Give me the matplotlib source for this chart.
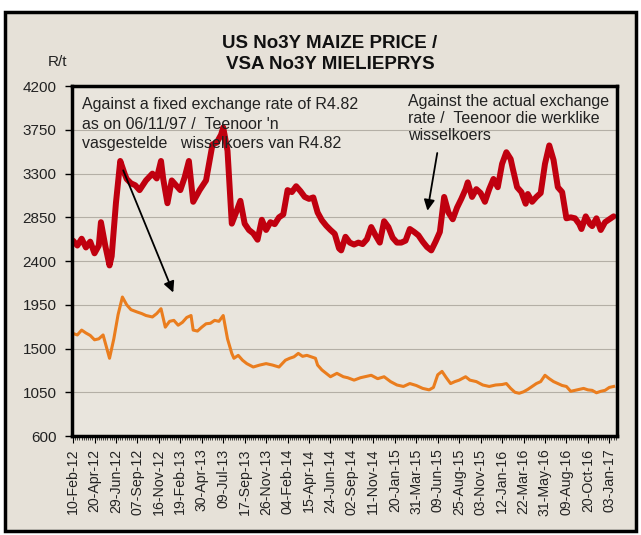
import numpy as np
import matplotlib.pyplot as plt
from matplotlib.patches import Rectangle

plt.rcParams['font.family'] = ['Liberation Sans', 'DejaVu Sans']

# category axis: one category per week, every 10th week is labelled
n_weeks = 254
week_labels = ['10-Feb-12', '20-Apr-12', '29-Jun-12', '07-Sep-12', '16-Nov-12',
               '19-Feb-13', '30-Apr-13', '09-Jul-13', '17-Sep-13', '26-Nov-13',
               '04-Feb-14', '15-Apr-14', '24-Jun-14', '02-Sep-14', '11-Nov-14',
               '20-Jan-15', '31-Mar-15', '09-Jun-15', '25-Aug-15', '03-Nov-15',
               '12-Jan-16', '22-Mar-16', '31-May-16', '09-Aug-16', '20-Oct-16',
               '03-Jan-17']

# actual exchange rate (R/t) at week index
actual_wk = [0, 2, 4, 6, 8, 10, 12, 13, 15, 17, 18, 20, 22, 24, 25, 27, 29, 31, 34, 37,
             39, 41, 42, 44, 46, 48, 50, 52, 54, 56, 59, 62, 65, 67, 69, 70, 72, 74, 76, 78,
             80, 82, 84, 86, 88, 90, 92, 94, 96, 98, 100, 102, 104, 106, 108, 110, 112, 114, 116, 118,
             120, 122, 124, 125, 127, 129, 131, 133, 135, 137, 139, 141, 143, 145, 147, 149, 151, 153, 155, 157,
             159, 161, 163, 165, 167, 169, 171, 173, 175, 177, 179, 181, 183, 184, 186, 188, 190, 192, 194, 196,
             198, 200, 202, 204, 205, 207, 209, 211, 212, 214, 216, 218, 220, 222, 224, 226, 228, 230, 232, 234,
             236, 237, 239, 241, 242, 244, 246, 248, 250, 252]
actual_val = [2610, 2560, 2630, 2540, 2600, 2480, 2560, 2800, 2560, 2355, 2450, 3000, 3430, 3300, 3245, 3200, 3180, 3130, 3230, 3300,
              3250, 3430, 3250, 2995, 3230, 3180, 3130, 3260, 3430, 3010, 3130, 3230, 3600, 3620, 3700, 3775, 3535, 2785, 2900, 3020,
              2785, 2720, 2685, 2620, 2825, 2720, 2800, 2780, 2850, 2880, 3130, 3110, 3170, 3120, 3060, 3040, 3055, 2900, 2820, 2765,
              2720, 2680, 2530, 2510, 2650, 2590, 2570, 2590, 2575, 2625, 2750, 2665, 2590, 2810, 2750, 2640, 2590, 2590, 2610, 2730,
              2700, 2665, 2600, 2545, 2510, 2600, 2700, 3060, 2900, 2830, 2950, 3040, 3140, 3210, 3060, 3140, 3100, 3010, 3140, 3245,
              3160, 3400, 3520, 3450, 3350, 3160, 3110, 2990, 3090, 3010, 3060, 3100, 3400, 3590, 3440, 3160, 3110, 2840, 2850, 2840,
              2780, 2730, 2860, 2780, 2760, 2840, 2720, 2800, 2830, 2860]

# fixed exchange rate of R4.82 (R/t)
fixed_wk = [0, 2, 4, 6, 8, 10, 12, 14, 15, 17, 19, 21, 23, 25, 27, 30, 32, 34, 37, 39,
            41, 43, 45, 47, 49, 51, 53, 55, 56, 58, 60, 62, 64, 66, 68, 70, 72, 74, 75, 77,
            79, 81, 84, 87, 90, 93, 96, 99, 101, 103, 105, 107, 109, 111, 113, 114, 116, 118, 120, 123,
            126, 128, 131, 134, 136, 139, 142, 145, 148, 151, 154, 157, 160, 163, 166, 168, 170, 172, 174, 176,
            178, 180, 183, 185, 188, 191, 194, 197, 200, 202, 204, 206, 208, 210, 212, 214, 216, 218, 220, 222,
            224, 226, 228, 230, 232, 234, 236, 238, 240, 242, 244, 246, 248, 250, 252]
fixed_val = [1655, 1640, 1690, 1660, 1635, 1590, 1600, 1640, 1560, 1400, 1600, 1850, 2030, 1950, 1900, 1875, 1860, 1840, 1825, 1860,
             1910, 1720, 1780, 1790, 1740, 1770, 1820, 1840, 1690, 1680, 1720, 1755, 1760, 1790, 1780, 1840, 1600, 1450, 1400, 1430,
             1380, 1345, 1310, 1330, 1345, 1330, 1310, 1380, 1400, 1415, 1450, 1420, 1430, 1415, 1400, 1330, 1280, 1245, 1210, 1245,
             1210, 1200, 1175, 1200, 1210, 1225, 1190, 1210, 1160, 1125, 1110, 1140, 1120, 1090, 1075, 1100, 1230, 1265, 1200, 1140,
             1160, 1175, 1210, 1175, 1160, 1125, 1110, 1125, 1130, 1140, 1090, 1050, 1040, 1055, 1080, 1110, 1140, 1160, 1225, 1190,
             1160, 1140, 1120, 1110, 1060, 1070, 1080, 1090, 1075, 1070, 1045, 1060, 1070, 1100, 1110]

y_ticks = [600, 1050, 1500, 1950, 2400, 2850, 3300, 3750, 4200]

fig = plt.figure(figsize=(6.41, 5.35), dpi=100)
fig.patch.set_facecolor('white')
# outer framed panel
fig.patches.append(Rectangle((5 / 641, 4 / 535), 631 / 641, 519 / 535, transform=fig.transFigure,
                             facecolor='#e6e1d8', edgecolor='black', lw=2.5, zorder=-1))

ax = fig.add_axes([0.1123, 0.185, 0.850, 0.654])
ax.set_facecolor('#e9e5dd')

ax.plot(actual_wk, actual_val, color='#c0000f', lw=4.3, solid_joinstyle='round', solid_capstyle='round')
ax.plot(fixed_wk, fixed_val, color='#ea7d1e', lw=2.2, solid_joinstyle='round')

ax.set_xlim(-0.5, n_weeks - 0.5)
ax.set_ylim(600, 4200)
ax.set_yticks(y_ticks)
ax.set_xticks(range(0, 10 * len(week_labels), 10))
ax.set_xticklabels(week_labels, rotation=90, fontsize=10.2, color='#222222')
ax.set_xticks(range(n_weeks), minor=True)
ax.tick_params(axis='y', labelsize=11, length=5, width=1, pad=6, labelcolor='#222222')
ax.tick_params(axis='x', which='major', length=5, width=0.8, pad=4)
ax.tick_params(axis='x', which='minor', length=3, width=0.5)
ax.yaxis.grid(True, color='#b4afa6', lw=0.8)
ax.set_axisbelow(True)
for s in ax.spines.values():
    s.set_linewidth(2.5)
    s.set_color('black')

fig.text(0.515, 0.899, 'US No3Y MAIZE PRICE /\nVSA No3Y MIELIEPRYS', ha='center', va='center',
         fontsize=13.5, fontweight='bold', linespacing=1.25, color='#111111')
fig.text(0.09, 0.884, 'R/t', ha='center', va='center', fontsize=11, color='#222222')

ax.text(4, 4090, "Against a fixed exchange rate of R4.82\nas on 06/11/97 /  Teenoor 'n\nvasgestelde   wisselkoers van R4.82",
        ha='left', va='top', fontsize=11.5, linespacing=1.4, color='#222222')
ax.text(156, 4120, 'Against the actual exchange\nrate /  Teenoor die werklike\nwisselkoers',
        ha='left', va='top', fontsize=11.5, linespacing=1.15, color='#222222')

ax.annotate('', xy=(47.2, 2050), xytext=(22.9, 3360),
            arrowprops=dict(arrowstyle='-|>', color='black', lw=1.3, mutation_scale=16))
ax.annotate('', xy=(165, 2890), xytext=(170, 3540),
            arrowprops=dict(arrowstyle='-|>', color='black', lw=1.3, mutation_scale=16))

plt.savefig('out.png', dpi=100)
